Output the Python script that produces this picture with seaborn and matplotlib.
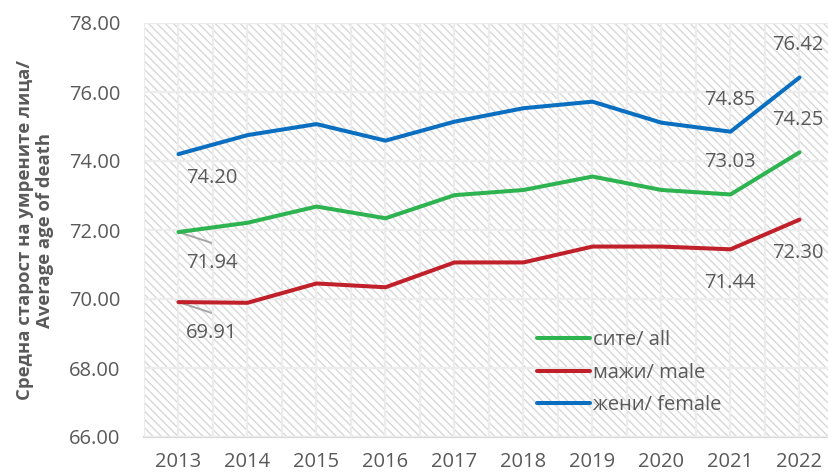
import pandas as pd
import seaborn as sns
import matplotlib.pyplot as plt
from matplotlib.patches import Rectangle

years = ["2013", "2014", "2015", "2016", "2017", "2018", "2019", "2020", "2021", "2022"]
all_ages = [71.94, 72.21, 72.68, 72.34, 73.01, 73.16, 73.55, 73.16, 73.03, 74.25]
male_ages = [69.91, 69.89, 70.45, 70.34, 71.06, 71.06, 71.52, 71.52, 71.44, 72.30]
female_ages = [74.20, 74.75, 75.07, 74.59, 75.14, 75.53, 75.72, 75.11, 74.85, 76.42]
series_names = ["сите/ all", "мажи/ male", "жени/ female"]
ylabel = "Средна старост на умрените лица/\nAverage age of death"

GREY = "#595959"

df = pd.concat(
    [
        pd.DataFrame({"year": range(len(years)), "age": vals, "series": name})
        for name, vals in zip(series_names, [all_ages, male_ages, female_ages])
    ]
)

sns.set_theme(style="white")
plt.rcParams["font.family"] = ["Open Sans", "DejaVu Sans"]
plt.rcParams["hatch.color"] = "#d4d4d4"
plt.rcParams["hatch.linewidth"] = 0.9

fig = plt.figure(figsize=(8.29, 4.75), dpi=100)
# plot area runs past the right edge of the picture, like the original
ax = fig.add_axes([144 / 829, 38 / 475, 690 / 829, 414 / 475])

# hatched plot-area background
ax.add_patch(Rectangle((0, 0), 1, 1, transform=ax.transAxes, facecolor="white",
                       edgecolor="#d4d4d4", hatch="\\\\\\\\", lw=0, zorder=0))

palette = {series_names[0]: "#2db34f", series_names[1]: "#c0202a", series_names[2]: "#0a6fc0"}
sns.lineplot(data=df, x="year", y="age", hue="series", palette=palette,
             linewidth=2.9, ax=ax, zorder=3)

ax.set_xlim(-0.5, 9.5)
ax.set_ylim(66, 78)
ax.set_yticks([66, 68, 70, 72, 74, 76, 78])
ax.set_yticklabels([f"{v:.2f}" for v in ax.get_yticks()])
ax.set_xticks(range(len(years)))
ax.set_xticklabels(years)
ax.set_xticks([i - 0.5 for i in range(len(years) + 1)], minor=True)
ax.grid(True, which="major", axis="both", color="#ececec", lw=1.6, zorder=1)
ax.grid(True, which="minor", axis="x", color="#ececec", lw=1.6, zorder=1)
ax.set_axisbelow(False)
ax.tick_params(axis="both", which="both", length=0, labelsize=14.5, labelcolor=GREY)
ax.tick_params(axis="y", pad=17)
ax.tick_params(axis="x", pad=11)
for s in ["top", "right", "left"]:
    ax.spines[s].set_visible(False)
ax.spines["bottom"].set_color("#d9d9d9")
ax.spines["bottom"].set_linewidth(1.6)

ax.set_xlabel("")
ax.set_ylabel(ylabel, fontsize=13.3, fontweight="bold", color=GREY, labelpad=11,
              linespacing=1.1)

# data labels
label_style = dict(fontsize=14.5, color=GREY, ha="center", va="center", zorder=5)
ax.text(0.48, 73.51, f"{female_ages[0]:.2f}", **label_style)
for val, ty in [(all_ages[0], 71.04), (male_ages[0], 69.01)]:
    ax.text(0.48, ty, f"{val:.2f}", **label_style)
    # leader line from the point to the label
    ax.plot([0, 0.49], [val, ty + 0.58], color="#a6a6a6", lw=1.4, zorder=2)
for val, ty in [(female_ages[8], 75.77), (all_ages[8], 73.97), (male_ages[8], 70.46)]:
    ax.text(7.99, ty, f"{val:.2f}", **label_style)
for val, ty in [(female_ages[9], 77.36), (all_ages[9], 75.19), (male_ages[9], 71.33)]:
    ax.text(8.98, ty, f"{val:.2f}", **label_style)

leg = ax.legend(loc="upper left", bbox_to_anchor=(0.57, 0.258), frameon=False,
                fontsize=14.5, handlelength=2.6, handletextpad=0.15,
                labelspacing=0.62, borderpad=0, borderaxespad=0)
for t in leg.get_texts():
    t.set_color(GREY)
for h in leg.get_lines():
    h.set_linewidth(2.9)

fig.savefig("out.png", dpi=100)
